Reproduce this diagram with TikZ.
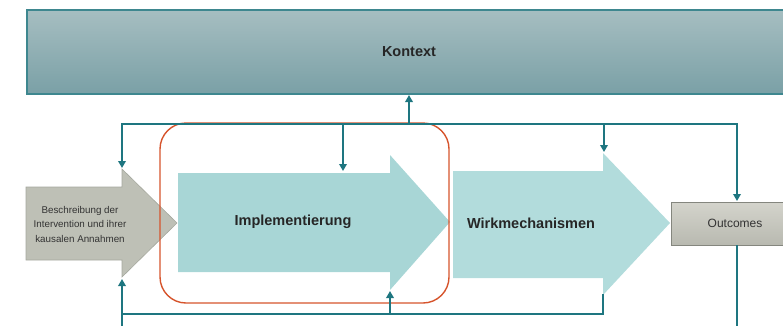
\documentclass[tikz,border=0pt]{standalone}
\usepackage{fontspec}
\setmainfont{Liberation Sans}
\usetikzlibrary{arrows.meta}
\definecolor{teal1}{RGB}{30,118,128}
\definecolor{ktop}{RGB}{166,190,193}
\definecolor{kbot}{RGB}{122,160,166}
\definecolor{kborder}{RGB}{62,135,143}
\definecolor{arrfill}{RGB}{168,214,214}
\definecolor{arrfill2}{RGB}{178,220,220}
\definecolor{greyfill}{RGB}{190,192,182}
\definecolor{greyborder}{RGB}{165,168,158}
\definecolor{outtop}{RGB}{212,212,204}
\definecolor{outbot}{RGB}{184,185,176}
\definecolor{orange1}{RGB}{214,84,44}
\tikzset{
  loopline/.style={draw=teal1, line width=2.8pt},
  looparrow/.style={draw=teal1, line width=2.8pt, -{Triangle[length=7pt,width=7.5pt]}},
  bigtxt/.style={font=\fontsize{14.5}{16}\selectfont\bfseries, text=black!85},
  smalltxt/.style={font=\fontsize{9.8}{14.5}\selectfont, text=black!80, align=center},
}
\begin{document}
\begin{tikzpicture}[x=1pt,y=-1pt]
\useasboundingbox (0,0) rectangle (783,325);
% Kontext box
\shade[top color=ktop, bottom color=kbot, draw=kborder, line width=1.4pt] (27,10) rectangle (800,94);
\node[bigtxt] (kontext) at (409,52) {Kontext};
\coordinate (kbottom) at (409,95);
% grey arrow
\fill[greyfill, draw=greyborder, line width=0.6pt] (26,187) -- (122,187) -- (122,169) -- (177,223) -- (122,277) -- (122,260) -- (26,260) -- cycle;
\node[smalltxt] (beschr) at (80,224) {Beschreibung der\\Intervention und ihrer\\kausalen Annahmen};
% Implementierung arrow
\fill[arrfill] (178,173) -- (390,173) -- (390,155) -- (450,222) -- (390,290) -- (390,272) -- (178,272) -- cycle;
\node[bigtxt] (impl) at (293,222) {Implementierung};
% Wirkmechanismen arrow
\fill[arrfill2] (453,171) -- (603,171) -- (603,153) -- (670,223) -- (603,295) -- (603,278) -- (453,278) -- cycle;
\node[bigtxt] (wirk) at (531,223) {Wirkmechanismen};
% Outcomes
\shade[top color=outtop, bottom color=outbot, draw=greyborder!80!black, line width=0.8pt] (671,202) rectangle (800,245);
\node[font=\fontsize{12}{14}\selectfont, text=black!80] (outc) at (735,223) {Outcomes};
% orange highlight
\draw[orange1, line width=1.4pt, rounded corners=26pt] (160,123) rectangle (449,303);
% coordinates
\coordinate (tl) at (122,124);
\coordinate (tr) at (737,124);
\coordinate (tk) at (409,124);
\coordinate (ti) at (343,124);
\coordinate (tw) at (604,124);
\coordinate (bl) at (122,314);
\coordinate (bi) at (390,314);
\coordinate (bw) at (603,314);
\coordinate (bwend) at (603,295);
\coordinate (bottomL) at (122,330);
\coordinate (bottomR) at (737,330);
\coordinate (gtop) at (122,168);
\coordinate (gbot) at (122,279);
\coordinate (itop) at (343,171);
\coordinate (ibot) at (390,291);
\coordinate (wtop) at (604,152);
\coordinate (otop) at (737,201);
\coordinate (obot) at (737,245);
% loop lines
\draw[loopline, line cap=rect] (tl) -- (tr);
\draw[loopline, line cap=rect] (bl) -- (bw) -- (bwend);
\draw[looparrow] (tk) -- (kbottom);
\draw[looparrow] (tl) -- (gtop);
\draw[looparrow] (ti) -- (itop);
\draw[looparrow] (tw) -- (wtop);
\draw[looparrow] (tr) -- (otop);
\draw[looparrow] (bottomL) -- (gbot);
\draw[looparrow] (bi) -- (ibot);
\draw[loopline] (obot) -- (bottomR);
\end{tikzpicture}
\end{document}
